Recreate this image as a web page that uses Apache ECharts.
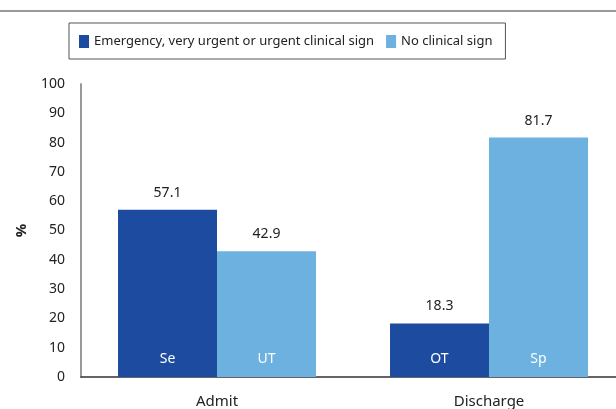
<!DOCTYPE html>
<html>
<head>
<meta charset="utf-8">
<script src="https://cdn.jsdelivr.net/npm/echarts@6/dist/echarts.min.js"></script>
<style>
  html, body { margin: 0; padding: 0; background: #fff; }
  #chart { width: 616px; height: 409px; }
</style>
</head>
<body>
<div id="chart"></div>
<script>
// data
const categories = ['Admit', 'Discharge'];
const seriesNames = ['Emergency, very urgent or urgent clinical sign', 'No clinical sign'];
const urgentValues = [57.1, 18.3];
const noSignValues = [42.9, 81.7];
const urgentCodes = ['Se', 'OT'];
const noSignCodes = ['UT', 'Sp'];

const darkBlue = '#1c4ba0';
const lightBlue = '#6cb1e0';
const font = 'Noto Sans';

const chart = echarts.init(document.getElementById('chart'));

// bar with the code inside at the bottom, plus an empty bar stacked on top carrying the value label
function barPair(name, values, codes, color, stack) {
  return [
    {
      name: name,
      type: 'bar',
      stack: stack,
      data: values,
      barWidth: 99,
      barGap: '0%',
      itemStyle: { color: color },
      label: {
        show: true,
        position: 'insideBottom',
        distance: 11,
        color: '#fff',
        fontSize: 14,
        fontFamily: font,
        formatter: p => codes[p.dataIndex]
      }
    },
    {
      name: name,
      type: 'bar',
      stack: stack,
      data: values.map(() => 0),
      barWidth: 99,
      barGap: '0%',
      itemStyle: { color: color },
      label: {
        show: true,
        position: 'top',
        distance: 10,
        color: '#222',
        fontSize: 14,
        fontFamily: font,
        formatter: p => values[p.dataIndex].toFixed(1)
      }
    }
  ];
}

const option = {
  animation: false,
  backgroundColor: '#fff',
  graphic: [
    {
      type: 'line',
      shape: { x1: 0, y1: 11, x2: 616, y2: 11 },
      style: { stroke: '#777', lineWidth: 1.5 }
    }
  ],
  legend: {
    data: seriesNames,
    left: 69,
    top: 23,
    padding: [12, 13, 11, 10],
    borderColor: '#555',
    borderWidth: 1,
    itemWidth: 10,
    itemHeight: 13,
    itemGap: 12,
    icon: 'rect',
    textStyle: { fontSize: 13, fontFamily: font, color: '#222' }
  },
  grid: { left: 81, top: 84, right: -9, bottom: 32, outerBoundsMode: 'none' },
  xAxis: {
    type: 'category',
    data: categories,
    axisLine: { lineStyle: { color: '#333', width: 1.5 } },
    axisTick: { show: false },
    axisLabel: { fontSize: 15, fontFamily: font, color: '#222', margin: 17 }
  },
  yAxis: {
    type: 'value',
    min: 0,
    max: 100,
    interval: 10,
    name: '%',
    nameLocation: 'middle',
    nameRotate: 90,
    nameGap: 52,
    nameTextStyle: { fontSize: 15, fontWeight: 'bold', fontFamily: font, color: '#222' },
    splitLine: { show: false },
    axisTick: { show: false },
    axisLine: { show: true, lineStyle: { color: '#999', width: 2 } },
    axisLabel: { fontSize: 14, fontFamily: font, color: '#222', margin: 16 }
  },
  series: [
    ...barPair(seriesNames[0], urgentValues, urgentCodes, darkBlue, 'urgent'),
    ...barPair(seriesNames[1], noSignValues, noSignCodes, lightBlue, 'nosign')
  ]
};

chart.setOption(option);
</script>
</body>
</html>
